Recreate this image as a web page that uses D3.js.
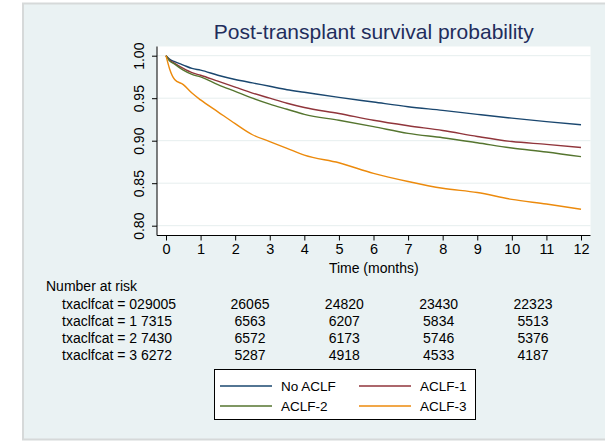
<!DOCTYPE html>
<html>
<head>
<meta charset="utf-8">
<script src="https://cdn.jsdelivr.net/npm/d3@7"></script>
<style>
  html, body { margin: 0; padding: 0; background: #ffffff; }
  svg { display: block; font-family: "Liberation Sans", Arial, Helvetica, sans-serif; }
</style>
</head>
<body>
<svg id="chart" width="605" height="441"></svg>
<script>
// Kaplan-Meier estimates by ACLF grade at transplant (time in months)
const times = [0, 0.1, 0.25, 0.5, 0.75, 1, 1.5, 2, 2.5, 3, 3.5, 4, 5, 6, 7, 8, 9, 10, 11, 12];
const noACLF = [1, 0.996, 0.993, 0.989, 0.985, 0.983, 0.977, 0.972, 0.968, 0.964, 0.960, 0.957, 0.951, 0.9455, 0.940, 0.9357, 0.931, 0.9265, 0.9225, 0.9188];
const aclf1  = [1, 0.995, 0.991, 0.985, 0.980, 0.977, 0.970, 0.963, 0.956, 0.950, 0.944, 0.939, 0.932, 0.924, 0.9176, 0.912, 0.905, 0.899, 0.8957, 0.892];
const aclf2  = [1, 0.994, 0.990, 0.983, 0.978, 0.975, 0.966, 0.958, 0.950, 0.943, 0.937, 0.931, 0.924, 0.9165, 0.9086, 0.9035, 0.8976, 0.8914, 0.8867, 0.8812];
const aclf3  = [1, 0.985, 0.972, 0.966, 0.956, 0.948, 0.934, 0.920, 0.907, 0.899, 0.891, 0.883, 0.874, 0.8616, 0.852, 0.844, 0.839, 0.831, 0.8255, 0.8193];

const seriesNames = ["No ACLF", "ACLF-1", "ACLF-2", "ACLF-3"];
const seriesColors = ["#1a476f", "#90353b", "#55752f", "#ec8a0c"];

const xTicks = [0, 1, 2, 3, 4, 5, 6, 7, 8, 9, 10, 11, 12];
const yTicks = [0.80, 0.85, 0.90, 0.95, 1.00];

// Number-at-risk table
const riskTimes = [3, 6, 9, 12];
const riskLabels = ["txaclfcat = 029005", "txaclfcat = 1 7315", "txaclfcat = 2 7430", "txaclfcat = 3 6272"];
const riskNoACLF = [26065, 24820, 23430, 22323];
const riskACLF1 = [6563, 6207, 5834, 5513];
const riskACLF2 = [6572, 6173, 5746, 5376];
const riskACLF3 = [5287, 4918, 4533, 4187];

const svg = d3.select("#chart");

// Outer panel
svg.append("rect")
  .attr("x", 23).attr("y", 3.5).attr("width", 600).attr("height", 436)
  .attr("fill", "#eaf2f3").attr("stroke", "#d6d9d9").attr("stroke-width", 2);

const plot = { left: 157, right: 590.5, top: 46.5, bottom: 235.5 };

const x = d3.scaleLinear().domain([0, 12]).range([166, 581]);
const y = d3.scaleLinear().domain([0.80, 1.00]).range([225.7, 55.7]);

// Plot region
svg.append("rect")
  .attr("x", plot.left).attr("y", plot.top)
  .attr("width", plot.right - plot.left).attr("height", plot.bottom - plot.top)
  .attr("fill", "#ffffff");

// Horizontal grid lines
svg.append("g").selectAll("line").data(yTicks).join("line")
  .attr("x1", plot.left).attr("x2", plot.right)
  .attr("y1", d => y(d)).attr("y2", d => y(d))
  .attr("stroke", "#e6eeee").attr("stroke-width", 1);

// Y axis
const yAxis = svg.append("g")
  .attr("transform", `translate(${plot.left},0)`)
  .call(d3.axisLeft(y).tickValues(yTicks).tickFormat(d3.format(".2f")).tickSize(5).tickSizeOuter(0));
yAxis.select(".domain").attr("d", `M0,${plot.top}V${plot.bottom}`).attr("stroke", "#000");
yAxis.selectAll(".tick line").attr("stroke", "#000");
yAxis.selectAll(".tick text")
  .attr("x", null).attr("dy", null)
  .attr("transform", "translate(-13,0) rotate(-90)")
  .attr("text-anchor", "middle")
  .attr("font-size", 14).attr("fill", "#000")
  .attr("font-family", "Liberation Sans, Arial, sans-serif");

// X axis
const xAxis = svg.append("g")
  .attr("transform", `translate(0,${plot.bottom})`)
  .call(d3.axisBottom(x).tickValues(xTicks).tickFormat(d3.format("d")).tickSize(5).tickSizeOuter(0));
xAxis.select(".domain").attr("d", `M${plot.left},0H${plot.right}`).attr("stroke", "#000");
xAxis.selectAll(".tick line").attr("stroke", "#000");
xAxis.selectAll(".tick text")
  .attr("y", 8).attr("font-size", 14.5).attr("fill", "#000")
  .attr("font-family", "Liberation Sans, Arial, sans-serif");

// Survival curves
const allSeries = [noACLF, aclf1, aclf2, aclf3];
const line = d3.line()
  .x((d, i) => x(times[i]))
  .y(d => y(d))
  .curve(d3.curveMonotoneX);

svg.append("g").selectAll("path").data(allSeries).join("path")
  .attr("d", d => line(d))
  .attr("fill", "none")
  .attr("stroke", (d, i) => seriesColors[i])
  .attr("stroke-width", 1.4)
  .attr("stroke-linejoin", "round");

// Title and axis label
svg.append("text")
  .attr("x", (plot.left + plot.right) / 2).attr("y", 39)
  .attr("text-anchor", "middle")
  .attr("font-size", 21).attr("fill", "#1f2d5c")
  .text("Post-transplant survival probability");

svg.append("text")
  .attr("x", (plot.left + plot.right) / 2).attr("y", 273)
  .attr("text-anchor", "middle")
  .attr("font-size", 14).attr("fill", "#000")
  .text("Time (months)");

// Number at risk
const riskX = d3.scaleLinear().domain([3, 12]).range([250, 533]);
const riskRows = [riskNoACLF, riskACLF1, riskACLF2, riskACLF3];
const rowY = d3.scaleLinear().domain([0, 3]).range([308.5, 359.5]);

svg.append("text")
  .attr("x", 46).attr("y", 290.5)
  .attr("font-size", 14).attr("fill", "#000")
  .text("Number at risk");

const risk = svg.append("g");
risk.selectAll("text.lab").data(riskLabels).join("text")
  .attr("class", "lab")
  .attr("x", 62).attr("y", (d, i) => rowY(i))
  .attr("font-size", 14).attr("fill", "#000")
  .text(d => d);

riskRows.forEach((row, r) => {
  risk.selectAll(`text.v${r}`).data(row).join("text")
    .attr("class", `v${r}`)
    .attr("x", (d, i) => riskX(riskTimes[i]))
    .attr("y", rowY(r))
    .attr("text-anchor", "middle")
    .attr("font-size", 14).attr("fill", "#000")
    .text(d => d);
});

// Legend
const legend = svg.append("g");
legend.append("rect")
  .attr("x", 214.5).attr("y", 369.5).attr("width", 261).attr("height", 50)
  .attr("fill", "#ffffff").attr("stroke", "#000").attr("stroke-width", 1);

const legendCols = [220, 359];
const legendRows = [386, 406];
seriesNames.forEach((name, i) => {
  const cx = legendCols[i % 2];
  const cy = legendRows[Math.floor(i / 2)];
  legend.append("line")
    .attr("x1", cx).attr("x2", cx + 52)
    .attr("y1", cy).attr("y2", cy)
    .attr("stroke", seriesColors[i]).attr("stroke-width", 1.3);
  legend.append("text")
    .attr("x", cx + 61).attr("y", cy + 5)
    .attr("font-size", 13.5).attr("fill", "#000")
    .text(name);
});
</script>
</body>
</html>
